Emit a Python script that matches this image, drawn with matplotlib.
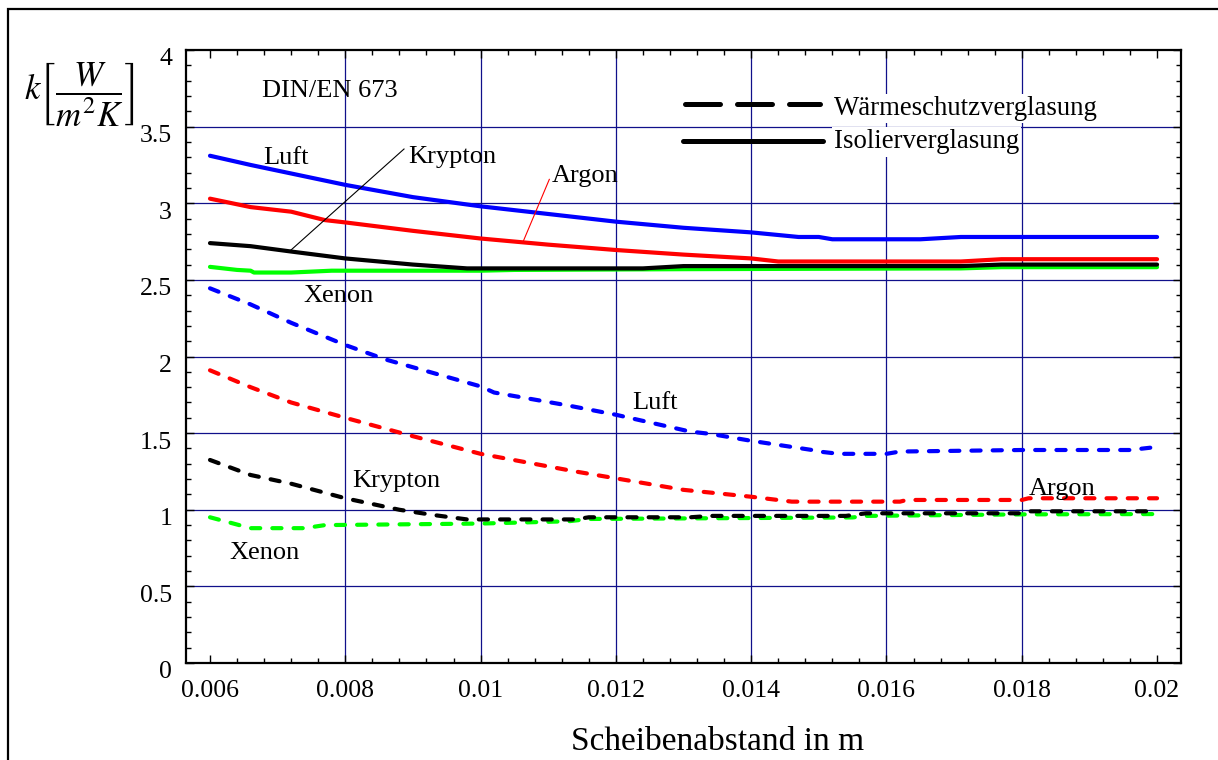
import matplotlib
matplotlib.use("Agg")
import matplotlib.pyplot as plt
from matplotlib.patches import Rectangle
from matplotlib.ticker import FixedLocator, MultipleLocator
from matplotlib.transforms import ScaledTranslation

plt.rcParams["font.family"] = ["Liberation Serif", "DejaVu Serif"]
plt.rcParams["mathtext.fontset"] = "stix"

# Isolierverglasung (solid)
luft_iso_x = [0.006, 0.0066, 0.008, 0.009, 0.010, 0.011, 0.012, 0.013, 0.014,
              0.0147, 0.0150, 0.0152, 0.0165, 0.0171, 0.020]
luft_iso_y = [3.31, 3.25, 3.12, 3.04, 2.98, 2.93, 2.88, 2.84, 2.81,
              2.78, 2.78, 2.765, 2.765, 2.78, 2.78]
argon_iso_x = [0.006, 0.0066, 0.0072, 0.0077, 0.008, 0.009, 0.010, 0.011, 0.012,
               0.013, 0.014, 0.0144, 0.0171, 0.0177, 0.020]
argon_iso_y = [3.03, 2.975, 2.945, 2.89, 2.875, 2.82, 2.77, 2.73, 2.695,
               2.665, 2.64, 2.62, 2.62, 2.635, 2.635]
krypton_iso_x = [0.006, 0.0066, 0.0072, 0.008, 0.009, 0.0098, 0.0124, 0.0130,
                 0.0171, 0.0177, 0.020]
krypton_iso_y = [2.74, 2.72, 2.685, 2.64, 2.60, 2.575, 2.575, 2.59,
                 2.59, 2.60, 2.60]
xenon_iso_x = [0.006, 0.0064, 0.0066, 0.00665, 0.0072, 0.0078, 0.010, 0.0105,
               0.013, 0.0171, 0.0177, 0.020]
xenon_iso_y = [2.585, 2.565, 2.56, 2.548, 2.548, 2.56, 2.56, 2.565,
               2.57, 2.575, 2.583, 2.583]

# Waermeschutzverglasung (dashed)
luft_ws_x = [0.006, 0.0066, 0.0072, 0.008, 0.0086, 0.009, 0.010, 0.0102, 0.0113,
             0.012, 0.0131, 0.0134, 0.014, 0.0149, 0.0150, 0.0153, 0.0160,
             0.0162, 0.0180, 0.0196, 0.0199]
luft_ws_y = [2.445, 2.34, 2.22, 2.075, 1.98, 1.93, 1.805, 1.765, 1.68,
             1.62, 1.51, 1.495, 1.45, 1.39, 1.38, 1.365, 1.365,
             1.38, 1.39, 1.39, 1.405]
argon_ws_x = [0.006, 0.0066, 0.0072, 0.008, 0.009, 0.010, 0.0114, 0.012, 0.013,
              0.014, 0.0146, 0.0162, 0.0163, 0.018, 0.0181, 0.020]
argon_ws_y = [1.91, 1.80, 1.70, 1.60, 1.48, 1.365, 1.25, 1.205, 1.13,
              1.085, 1.053, 1.053, 1.064, 1.064, 1.075, 1.075]
krypton_ws_x = [0.006, 0.0066, 0.0072, 0.008, 0.0088, 0.0093, 0.0098, 0.0114, 0.0116,
                0.0131, 0.0134, 0.0154, 0.0157, 0.0180, 0.0181, 0.0199]
krypton_ws_y = [1.325, 1.227, 1.17, 1.075, 1.0, 0.966, 0.937, 0.937, 0.951,
                0.951, 0.96, 0.96, 0.977, 0.977, 0.99, 0.99]
xenon_ws_x = [0.006, 0.0066, 0.0074, 0.0077, 0.010, 0.0113, 0.0116, 0.0155,
              0.0157, 0.018, 0.020]
xenon_ws_y = [0.951, 0.88, 0.88, 0.90, 0.91, 0.925, 0.94, 0.95,
              0.96, 0.97, 0.972]

x_ticks = [0.006, 0.008, 0.010, 0.012, 0.014, 0.016, 0.018, 0.020]
x_tick_labels = ["0.006", "0.008", "0.01", "0.012", "0.014", "0.016", "0.018", "0.02"]
y_ticks = [0, 0.5, 1, 1.5, 2, 2.5, 3, 3.5, 4]
y_tick_labels = ["0", "0.5", "1", "1.5", "2", "2.5", "3", "3.5", "4"]

fig = plt.figure(figsize=(12.18, 7.6), dpi=100)
ax = fig.add_axes([0.1527, 0.1276, 0.8167, 0.8066])

grid_c = "#10108a"
for gx in x_ticks[1:-1]:
    ax.axvline(gx, color=grid_c, lw=0.9, zorder=1)
for gy in y_ticks[1:-1]:
    ax.axhline(gy, color=grid_c, lw=0.9, zorder=1)

solid_kw = dict(lw=3.0, solid_capstyle="round", solid_joinstyle="round", zorder=3)
dash_kw = dict(lw=3.0, dashes=(2.2, 2.9), dash_capstyle="round", zorder=3)

ax.plot(xenon_iso_x, xenon_iso_y, color="#00ff00", **solid_kw)
ax.plot(krypton_iso_x, krypton_iso_y, color="black", **solid_kw)
ax.plot(argon_iso_x, argon_iso_y, color="red", **solid_kw)
ax.plot(luft_iso_x, luft_iso_y, color="blue", **solid_kw)

ax.plot(xenon_ws_x, xenon_ws_y, color="#00ff00", **dash_kw)
ax.plot(krypton_ws_x, krypton_ws_y, color="black", **dash_kw)
ax.plot(argon_ws_x, argon_ws_y, color="red", **dash_kw)
ax.plot(luft_ws_x, luft_ws_y, color="blue", **dash_kw)

ax.set_xlim(0.005645, 0.02035)
ax.set_ylim(0, 4)
ax.xaxis.set_major_locator(FixedLocator(x_ticks))
ax.set_xticklabels(x_tick_labels)
ax.xaxis.set_minor_locator(MultipleLocator(0.0004))
ax.yaxis.set_major_locator(FixedLocator(y_ticks))
ax.set_yticklabels(y_tick_labels)
ax.yaxis.set_minor_locator(MultipleLocator(0.1))
ax.tick_params(which="both", direction="in", top=True, right=True,
               labelsize=18.5, width=1.0)
ax.tick_params(which="major", length=6)
ax.tick_params(axis="x", which="major", pad=12)
ax.tick_params(axis="y", which="major", pad=10)
ax.tick_params(which="minor", length=3.5)
for s in ax.spines.values():
    s.set_linewidth(1.6)

# y tick labels sit a little below their ticks
shift = ScaledTranslation(0, -5 / 72, fig.dpi_scale_trans)
for t in ax.yaxis.get_major_ticks():
    t.label1.set_transform(t.label1.get_transform() + shift)

# curve labels
fs = 19
ax.text(0.00678, 3.254, "Luft", fontsize=fs, zorder=4)
ax.text(0.00893, 3.26, "Krypton", fontsize=fs, zorder=4)
ax.plot([0.00718, 0.008868], [2.688, 3.354], color="black", lw=0.8, zorder=4)
ax.text(0.01105, 3.141, "Argon", fontsize=fs, zorder=4)
ax.plot([0.010631, 0.011016], [2.752, 3.156], color="red", lw=0.8, zorder=4)
ax.text(0.00738, 2.358, "Xenon", fontsize=fs, zorder=4)
ax.text(0.012243, 1.655, "Luft", fontsize=fs, zorder=4)
ax.text(0.0081, 1.146, "Krypton", fontsize=fs, zorder=4)
ax.text(0.006285, 0.677, "Xenon", fontsize=fs, zorder=4)
ax.text(0.01811, 1.096, "Argon", fontsize=fs, zorder=4)
ax.text(0.00677, 3.691, "DIN/EN 673", fontsize=fs, zorder=4)

# legend drawn in axes fractions
ax.plot([0.5017, 0.6374], [0.912, 0.912], transform=ax.transAxes, color="black",
        lw=3.6, dashes=(7, 3.4), dash_capstyle="round", zorder=5)
ax.plot([0.4997, 0.640], [0.851, 0.851], transform=ax.transAxes, color="black",
        lw=3.6, solid_capstyle="round", zorder=5)
box = dict(facecolor="white", edgecolor="none", pad=1.5)
ax.text(0.6515, 0.905, "Wärmeschutzverglasung", transform=ax.transAxes,
        fontsize=19.3, va="center", bbox=box, zorder=4)
ax.text(0.6515, 0.850, "Isolierverglasung", transform=ax.transAxes,
        fontsize=19.3, va="center", bbox=box, zorder=4)

fig.text(0.589, 0.024, "Scheibenabstand in m", fontsize=24, ha="center", va="center")
fig.text(0.0195, 0.876, r"$k\left[\dfrac{W}{m^2K}\right]$", fontsize=25,
         ha="left", va="center")

fig.add_artist(Rectangle((0.0066, -0.05), 1.2, 0.988 + 0.05, transform=fig.transFigure,
                         fill=False, lw=1.6, edgecolor="black", clip_on=False))

fig.savefig("out.png", dpi=100)
